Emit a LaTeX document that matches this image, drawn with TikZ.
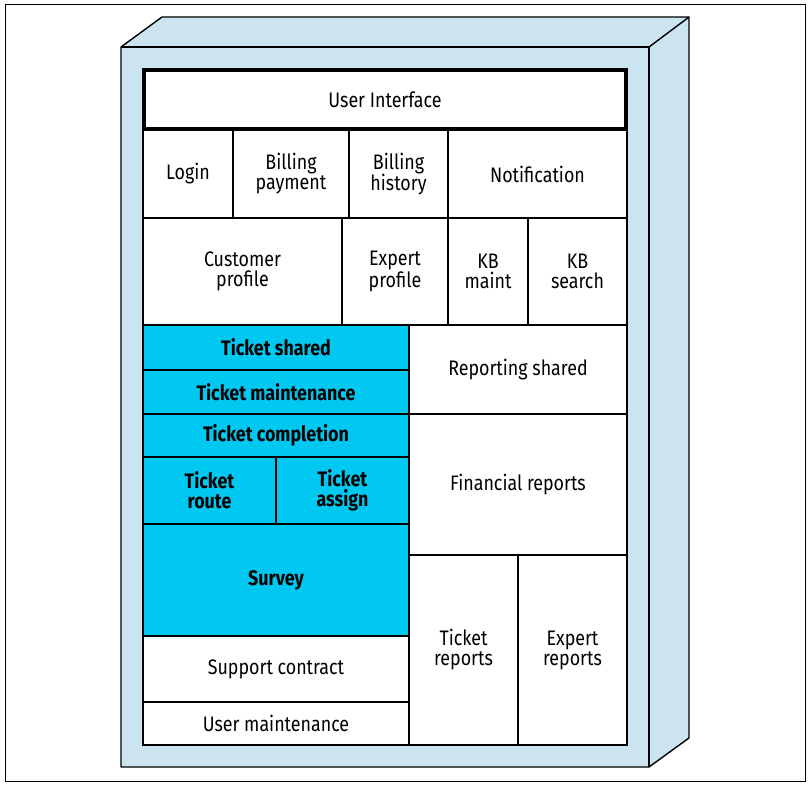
\documentclass[tikz,border=0pt]{standalone}
\usepackage{fontspec}
\setmainfont{Fira Sans}[FakeStretch=0.85]
\usepackage{tikz}
\usepackage{xcolor}
\usetikzlibrary{positioning}

\definecolor{boxface}{RGB}{204,227,240}
\definecolor{ticketcyan}{RGB}{0,200,240}

\tikzset{
  cell/.style={draw, line width=1.4pt, fill=white, inner sep=0pt, align=center,
    font=\fontsize{21}{20}\selectfont},
  tcell/.style={cell, fill=ticketcyan, font=\fontsize{21}{20}\selectfont\bfseries}
}

\begin{document}
\begin{tikzpicture}[x=1pt,y=-1pt]
\useasboundingbox (0,0) rectangle (811,786);
\draw[line width=1pt] (5,5) rectangle (805,781);
% the cabinet
\draw[fill=boxface, line width=1.4pt, line join=round] (121,47) -- (162,17) -- (689,17) -- (689,738) -- (649,767) -- (121,767) -- cycle;
\draw[line width=1.4pt] (121,47) -- (649,47) -- (649,767);
\draw[line width=1.4pt] (649,47) -- (689,17);
% first rows
\node[cell, minimum width=90pt, minimum height=88pt] (login) at (188,174) {Login};
\node[cell, minimum width=116pt, minimum height=88pt] (billpay) at (291,174) {Billing\\payment};
\node[cell, minimum width=99pt, minimum height=88pt] (billhist) at (398.5,174) {Billing\\history};
\node[cell, minimum width=179pt, minimum height=88pt] (notif) at (537.5,174) {Notification};
\node[cell, minimum width=199pt, minimum height=107pt] (custprof) at (242.5,271.5) {Customer\\profile};
\node[cell, minimum width=106pt, minimum height=107pt] (expprof) at (395,271.5) {Expert\\profile};
\node[cell, minimum width=80pt, minimum height=107pt] (kbmaint) at (488,271.5) {KB\\maint};
\node[cell, minimum width=99pt, minimum height=107pt] (kbsearch) at (577.5,271.5) {KB\\search};
% ticket part
\node[tcell, minimum width=266pt, minimum height=45pt] (tshared) at (276,347.5) {Ticket shared};
\node[tcell, minimum width=266pt, minimum height=44pt] (tmaint) at (276,392) {Ticket maintenance};
\node[tcell, minimum width=266pt, minimum height=43pt] (tcompl) at (276,435.5) {Ticket completion};
\node[tcell, minimum width=133pt, minimum height=67pt] (troute) at (209.5,490.5) {Ticket\\route};
\node[tcell, minimum width=133pt, minimum height=67pt] (tassign) at (342.5,490.5) {Ticket\\assign};
\node[tcell, minimum width=266pt, minimum height=112pt] (survey) at (276,580) {Survey};
\node[cell, minimum width=266pt, minimum height=66pt] (contract) at (276,669) {Support contract};
\node[cell, minimum width=266pt, minimum height=43pt] (usermaint) at (276,723.5) {User maintenance};
% reporting
\node[cell, minimum width=218pt, minimum height=89pt] (repshared) at (518,369.5) {Reporting shared};
\node[cell, minimum width=218pt, minimum height=141pt] (finrep) at (518,484.5) {Financial reports};
\node[cell, minimum width=109pt, minimum height=190pt] (tickrep) at (463.5,650) {Ticket\\reports};
\node[cell, minimum width=109pt, minimum height=190pt] (exprep) at (572.5,650) {Expert\\reports};
% user interface on top
\node[cell, line width=4pt, minimum width=482pt, minimum height=59pt] (ui) at (385,99.5) {User Interface};
\end{tikzpicture}
\end{document}
